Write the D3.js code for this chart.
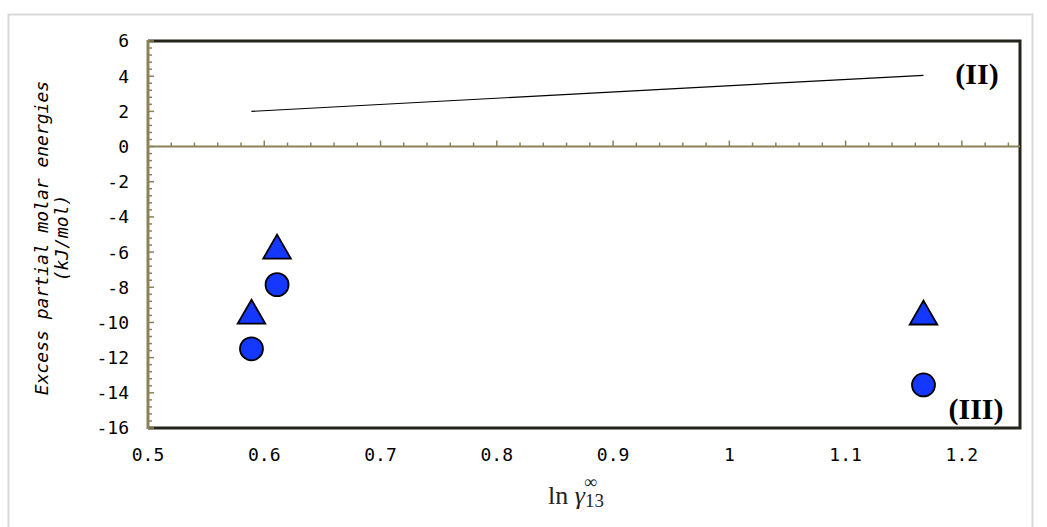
<!DOCTYPE html>
<html>
<head>
<meta charset="utf-8">
<script src="https://cdn.jsdelivr.net/npm/d3@7"></script>
<style>
  html, body { margin: 0; padding: 0; background: #fff; }
  svg { display: block; }
</style>
</head>
<body>
<svg id="chart" width="1047" height="527"></svg>
<script>
// ln(gamma13 inf) for the three systems
const lnGamma = [0.589, 0.611, 1.167];
// excess partial molar energies (kJ/mol)
const seriesCircle = [-11.5, -7.85, -13.55];
const seriesTriangle = [-9.5, -5.8, -9.55];
// line (II)
const lineX = [0.589, 1.167];
const lineY = [2.0, 4.05];

const xTicks = [0.5, 0.6, 0.7, 0.8, 0.9, 1.0, 1.1, 1.2];
const yTicks = [6, 4, 2, 0, -2, -4, -6, -8, -10, -12, -14, -16];

const svg = d3.select("#chart");
const plotL = 148, plotR = 1020, plotT = 41, plotB = 428;

const x = d3.scaleLinear().domain([0.5, 1.25]).range([plotL, plotR]);
const y = d3.scaleLinear().domain([-16, 6]).range([plotB, plotT]);

const olive = "#8c8159";
const dark = "#25241a";
const blue = "#1438ff";
const mono = "'DejaVu Sans Mono', 'Liberation Mono', monospace";
const serif = "'Liberation Serif', 'Times New Roman', serif";

// outer panel frame
svg.append("rect").attr("x", 8.5).attr("y", 14.5).attr("width", 1024).attr("height", 540)
  .attr("fill", "none").attr("stroke", "#d9d9d9").attr("stroke-width", 2);

// plot frame: dark top / right / bottom
svg.append("path")
  .attr("d", `M${plotL},${plotT}H${plotR}V${plotB}H${plotL}`)
  .attr("fill", "none").attr("stroke", dark).attr("stroke-width", 3);

// left (value) axis with inward minor ticks
const yMinor = d3.range(-16, 6.001, 0.4);
svg.append("g").selectAll("line").data(yMinor).join("line")
  .attr("x1", plotL).attr("x2", d => plotL + (Math.abs(d / 2 - Math.round(d / 2)) < 1e-6 ? 6 : 4))
  .attr("y1", d => y(d)).attr("y2", d => y(d))
  .attr("stroke", olive).attr("stroke-width", 1.5);
svg.append("line").attr("x1", plotL).attr("x2", plotL).attr("y1", plotT - 1).attr("y2", plotB + 1)
  .attr("stroke", olive).attr("stroke-width", 3);

// zero line carries the category-axis ticks
svg.append("line").attr("x1", plotL).attr("x2", plotR).attr("y1", y(0)).attr("y2", y(0))
  .attr("stroke", olive).attr("stroke-width", 2);
const xMinor = d3.range(0, 38).map(i => 0.5 + i * 0.02);
svg.append("g").selectAll("line").data(xMinor).join("line")
  .attr("x1", d => x(d)).attr("x2", d => x(d))
  .attr("y1", y(0))
  .attr("y2", (d, i) => y(0) - (i % 5 === 0 ? 6 : 4))
  .attr("stroke", olive).attr("stroke-width", 1.5);

// y tick labels
svg.append("g").selectAll("text").data(yTicks).join("text")
  .attr("x", 129).attr("y", d => y(d)).attr("dy", "0.36em")
  .attr("text-anchor", "end").attr("font-family", mono).attr("font-size", 18)
  .attr("fill", "#000").text(d => d);

// x tick labels
svg.append("g").selectAll("text").data(xTicks).join("text")
  .attr("x", d => x(d)).attr("y", 455).attr("dy", "0.36em")
  .attr("text-anchor", "middle").attr("font-family", mono).attr("font-size", 18)
  .attr("fill", "#000").text(d => d);

// line (II)
svg.append("path")
  .datum(lineX.map((v, i) => [v, lineY[i]]))
  .attr("d", d3.line().x(d => x(d[0])).y(d => y(d[1])))
  .attr("fill", "none").attr("stroke", "#000").attr("stroke-width", 1.2);

// triangle markers
const tri = d3.symbol().type(d3.symbolTriangle).size(330);
svg.append("g").selectAll("path").data(lnGamma).join("path")
  .attr("d", tri)
  .attr("transform", (d, i) => `translate(${x(d)},${y(seriesTriangle[i]) + 2})`)
  .attr("fill", blue).attr("stroke", "#000").attr("stroke-width", 1.8);

// circle markers
svg.append("g").selectAll("circle").data(lnGamma).join("circle")
  .attr("cx", d => x(d)).attr("cy", (d, i) => y(seriesCircle[i]))
  .attr("r", 11.5)
  .attr("fill", blue).attr("stroke", "#000").attr("stroke-width", 1.8);

// region labels
svg.append("text").attr("x", 977).attr("y", 84).attr("text-anchor", "middle")
  .attr("font-family", serif).attr("font-weight", "bold").attr("font-size", 30).text("(II)");
svg.append("text").attr("x", 976).attr("y", 419).attr("text-anchor", "middle")
  .attr("font-family", serif).attr("font-weight", "bold").attr("font-size", 30).text("(III)");

// y axis title
const yt = svg.append("text")
  .attr("transform", `translate(0,${238}) rotate(-90)`)
  .attr("text-anchor", "middle").attr("font-family", mono)
  .attr("font-style", "italic").attr("font-size", 18).attr("fill", "#000");
yt.append("tspan").attr("x", 0).attr("y", 48).text("Excess partial molar energies");
yt.append("tspan").attr("x", 0).attr("y", 68).text("(kJ/mol)");

// x axis title: ln γ13∞ (subscript and superscript stacked)
const xt = svg.append("text").attr("x", 548).attr("y", 504).attr("text-anchor", "start")
  .attr("font-family", serif).attr("font-size", 26).attr("fill", "#222");
xt.append("tspan").text("ln ");
xt.append("tspan").attr("font-style", "italic").text("γ");
xt.append("tspan").attr("font-size", 19).attr("dy", 3).text("13");
xt.append("tspan").attr("font-size", 18).attr("dx", -20).attr("dy", -19).text("∞");
</script>
</body>
</html>
